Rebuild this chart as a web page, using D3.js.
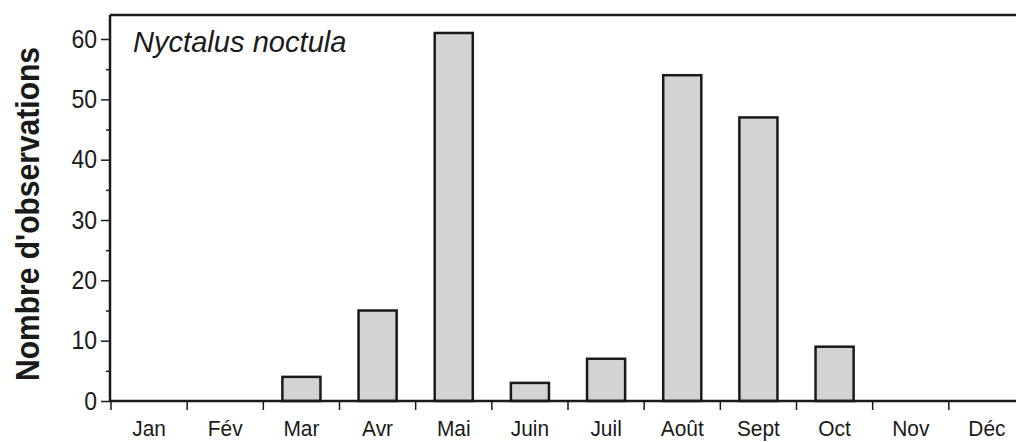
<!DOCTYPE html>
<html>
<head>
<meta charset="utf-8">
<script src="https://cdn.jsdelivr.net/npm/d3@7"></script>
<style>
  body { margin: 0; background: #fff; }
  text { font-family: "Liberation Sans", Arial, Helvetica, sans-serif; fill: #1a1a1a; }
</style>
</head>
<body>
<svg id="chart" width="1016" height="442"></svg>
<script>
const months = ["Jan", "Fév", "Mar", "Avr", "Mai", "Juin", "Juil", "Août", "Sept", "Oct", "Nov", "Déc"];
const counts = [0, 0, 4, 15, 61, 3, 7, 54, 47, 9, 0, 0];
const majorTicks = [0, 10, 20, 30, 40, 50, 60];
const minorTicks = [5, 15, 25, 35, 45, 55];
const speciesName = "Nyctalus noctula";
const yTitle = "Nombre d'observations";

const width = 1016; // pixels
const height = 442; // pixels
const plotLeft = 110, plotTop = 15, plotBottom = 401;

const svg = d3.select("#chart");

const x = d3.scaleBand(months, [111, 1025]).padding(0);
const y = d3.scaleLinear([0, 60], [plotBottom, 39]);

// bars
const barW = x.bandwidth() * 0.5;
svg.append("g")
  .selectAll("rect")
  .data(counts.map((v, i) => ({ m: months[i], v })).filter(d => d.v > 0))
  .join("rect")
  .attr("x", d => x(d.m) + (x.bandwidth() - barW) / 2)
  .attr("y", d => y(d.v))
  .attr("width", barW)
  .attr("height", d => y(0) - y(d.v))
  .attr("fill", "#d3d3d3")
  .attr("stroke", "#1a1a1a")
  .attr("stroke-width", 2.5);

// frame: top line
svg.append("line")
  .attr("x1", plotLeft).attr("x2", width).attr("y1", plotTop).attr("y2", plotTop)
  .attr("stroke", "#1a1a1a").attr("stroke-width", 2.5);

// y axis (labels a bit narrow, like the original typeface)
const yAxis = svg.append("g").attr("transform", `translate(${plotLeft},0)`);
yAxis.call(d3.axisLeft(y).tickValues(majorTicks).tickSize(9).tickPadding(5).tickFormat(() => ""))
  .call(g => g.select(".domain").remove())
  .call(g => g.selectAll(".tick line").attr("stroke", "#1a1a1a").attr("stroke-width", 1.5));
yAxis.selectAll("text.ylab")
  .data(majorTicks)
  .join("text")
  .attr("class", "ylab")
  .attr("transform", d => `translate(-13,${y(d) + 8.5}) scale(0.92,1)`)
  .attr("text-anchor", "end")
  .attr("font-size", 25)
  .text(d => d);
yAxis.append("g")
  .call(d3.axisLeft(y).tickValues(minorTicks).tickSize(4).tickFormat(""))
  .call(g => g.select(".domain").remove())
  .call(g => g.selectAll(".tick line").attr("stroke", "#1a1a1a").attr("stroke-width", 1.5));
yAxis.append("line")
  .attr("y1", plotTop).attr("y2", plotBottom)
  .attr("stroke", "#1a1a1a").attr("stroke-width", 2.5);

// x axis: ticks at band edges, labels at band centres
const xAxis = svg.append("g").attr("transform", `translate(0,${plotBottom})`);
xAxis.append("line")
  .attr("x1", plotLeft).attr("x2", width)
  .attr("stroke", "#1a1a1a").attr("stroke-width", 2.5);
xAxis.selectAll("line.edge")
  .data(months)
  .join("line")
  .attr("class", "edge")
  .attr("x1", d => x(d)).attr("x2", d => x(d))
  .attr("y1", 0).attr("y2", 9)
  .attr("stroke", "#1a1a1a").attr("stroke-width", 1.5);
xAxis.selectAll("text")
  .data(months)
  .join("text")
  .attr("transform", d => `translate(${x(d) + x.bandwidth() / 2},35) scale(0.93,1)`)
  .attr("text-anchor", "middle")
  .attr("font-size", 22.5)
  .text(d => d);

// species name
svg.append("text")
  .attr("transform", "translate(133,52) scale(0.97,1)")
  .attr("font-size", 30)
  .attr("font-style", "italic")
  .text(speciesName);

// y title
svg.append("text")
  .attr("transform", "translate(39,214) rotate(-90) scale(0.91,1)")
  .attr("text-anchor", "middle")
  .attr("font-size", 33)
  .attr("font-weight", "bold")
  .text(yTitle);
</script>
</body>
</html>
